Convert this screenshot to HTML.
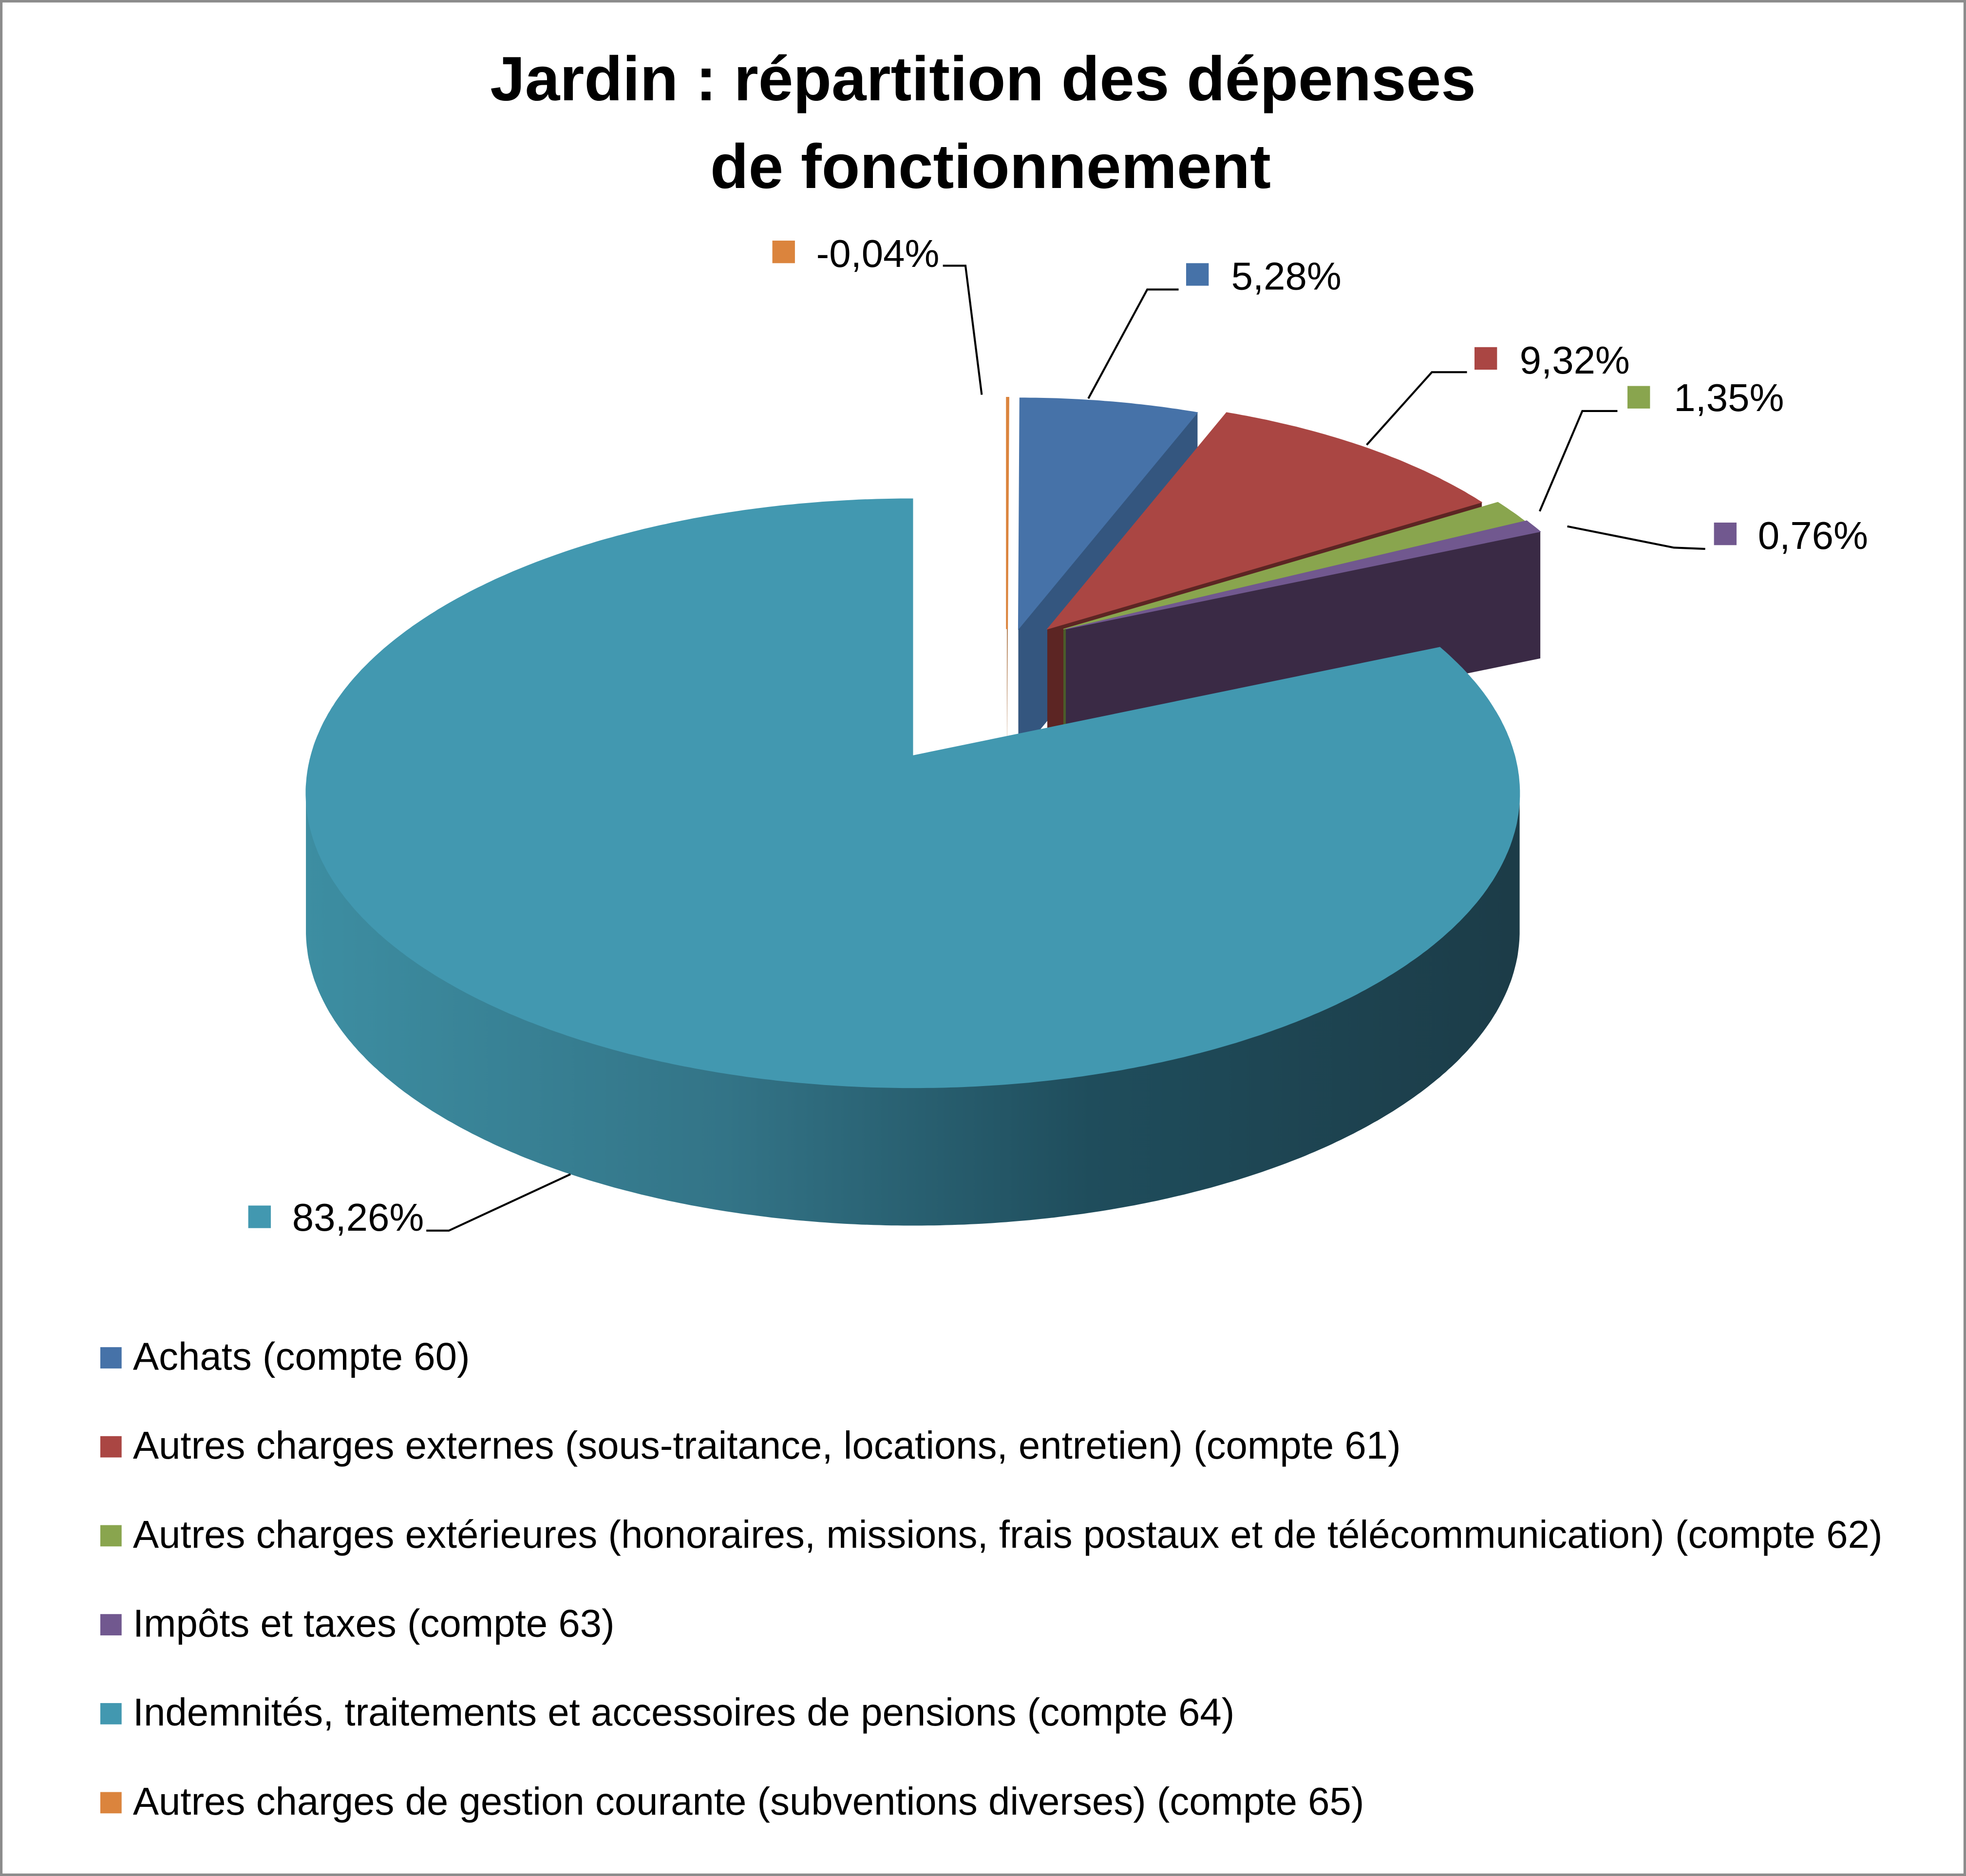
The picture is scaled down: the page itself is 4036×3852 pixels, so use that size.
<!DOCTYPE html>
<html><head><meta charset="utf-8"><style>
html,body{margin:0;padding:0;background:#fff;}
svg{display:block;}
text{font-family:"Liberation Sans",sans-serif;}
</style></head><body>
<svg id="chart" width="4036" height="3852" viewBox="0 0 1568 1497" preserveAspectRatio="none" xmlns="http://www.w3.org/2000/svg">
<defs>
<linearGradient id="tealSide" x1="240" y1="0" x2="1208" y2="0" gradientUnits="userSpaceOnUse">
<stop offset="0" stop-color="#3d8ea2"/><stop offset="0.35" stop-color="#337487"/><stop offset="0.65" stop-color="#1f4d5c"/><stop offset="1" stop-color="#1c3c48"/>
</linearGradient>
</defs>
<rect x="1" y="1" width="1566" height="1495" fill="#fff" stroke="#8c8c8c" stroke-width="2"/>
<text x="784" y="80" font-size="50" font-weight="bold" text-anchor="middle" fill="#000">Jardin : répartition des dépenses</text>
<text x="790" y="150" font-size="50" font-weight="bold" text-anchor="middle" fill="#000">de fonctionnement</text>
<g id="slices"></g>
<g id="labels"></g>
<g id="legend"></g>
</svg>
<script>
const categories = ["Achats (compte 60)","Autres charges externes (sous-traitance, locations, entretien) (compte 61)","Autres charges extérieures (honoraires, missions, frais postaux et de télécommunication) (compte 62)","Impôts et taxes (compte 63)","Indemnités, traitements et accessoires de pensions (compte 64)","Autres charges de gestion courante (subventions diverses) (compte 65)"];
const values = [5.28, 9.32, 1.35, 0.76, 83.26, -0.04];
const valueLabels = ["5,28%","9,32%","1,35%","0,76%","83,26%","-0,04%"];

const NS="http://www.w3.org/2000/svg";
const topC=["#4672a8","#aa4643","#89a54e","#71588f","#4298b0","#db843d"];
const sideC=["#34567f","#5c2523","#4b5c2a","#3a2a45","url(#tealSide)","#a05f2a"];
const cx=724, cy=633, rx=484, ry=235, depth=110, apexDy=-30;
const explodes=[1,1,1,1,0,1];
function pt(th, off, sc){return [cx+off[0]+sc*rx*Math.sin(th), cy+off[1]-sc*ry*Math.cos(th)];}
function mk(tag,attrs,parent){const e=document.createElementNS(NS,tag);for(const k in attrs)e.setAttribute(k,attrs[k]);parent.appendChild(e);return e;}
const total=values.reduce((a,v)=>a+Math.abs(v),0);
const sg=document.getElementById("slices");
const order=[5,0,1,2,3,4];
let acc=0; const ang={};
order.forEach(i=>{const a0=acc/total*2*Math.PI; acc+=Math.abs(values[i]); ang[i]=[a0, acc/total*2*Math.PI];});
function offsetFor(i){const m=(ang[i][0]+ang[i][1])/2; if(!explodes[i])return [4,0]; return [79+55*Math.sin(m), -104];}
function arcPts(a0,a1,off,dy,sc){const p=[];const n=Math.max(2,Math.ceil((a1-a0)/0.01));for(let k=0;k<=n;k++){const t=a0+(a1-a0)*k/n;const q=pt(t,off,sc);p.push([q[0],q[1]+dy]);}return p;}
function poly(pts){return "M"+pts.map(p=>p[0].toFixed(1)+","+p[1].toFixed(1)).join("L")+"Z";}
const drawOrder=[5,0,1,2,3,4];
drawOrder.forEach(i=>{
  const [a0,a1]=ang[i]; const off=offsetFor(i);
  const sc=explodes[i]?0.9:1; const dep=explodes[i]?depth*0.92:depth;
  const apex=[cx+off[0], cy+off[1]+apexDy*sc];
  const g=mk("g",{},sg);
  
  
  [a0,a1].forEach(a=>{const p=pt(a,off,sc);
    mk("path",{d:poly([apex,p,[p[0],p[1]+dep],[apex[0],apex[1]+dep]]),fill:i===4?"#2f7082":sideC[i]},g);});
  const s=Math.max(a0,Math.PI/2), e=Math.min(a1,1.5*Math.PI);
  if(e>s){const top=arcPts(s,e,off,0,sc), bot=arcPts(s,e,off,dep,sc).reverse();
    mk("path",{d:poly(top.concat(bot)),fill:sideC[i]},g);}
  const arc=arcPts(a0,a1,off,0,sc);
  mk("path",{d:poly([apex].concat(arc)),fill:topC[i],stroke:topC[i],"stroke-width":i===5?1.5:0.5},g);
});
const lg=document.getElementById("labels");
const labelPos=[[946,210,982,231,"940,231 915,231 868,318"],[1176,277,1212,298,"1170,297 1142,297 1090,355"],[1298,308,1335,328,"1290,328 1262,328 1228,408"],[1367,417,1402,438,"1360,438 1335,437 1250,420"],[198,962,233,982,"340,982 358,982 455,937"],[616,192,651,213,"752,212 770,212 783,315"]];
values.forEach((v,i)=>{
  const L=labelPos[i];
  const g=mk("g",{},lg);
  
  
  mk("polyline",{points:L[4],fill:"none",stroke:"#000","stroke-width":1.6},g);
  mk("rect",{x:L[0],y:L[1],width:18,height:18,fill:topC[i]},g);
  const t=mk("text",{x:L[2],y:L[3],"font-size":31,fill:"#000"},g); t.textContent=valueLabels[i];
});
const leg=document.getElementById("legend");
categories.forEach((c,i)=>{
  const y=1093+i*71;
  const g=mk("g",{},leg);
  
  
  mk("rect",{x:80,y:y-18,width:17,height:17,fill:topC[i]},g);
  const t=mk("text",{x:106,y:y,"font-size":31,fill:"#000"},g); t.textContent=c;
});
</script>
</body></html>
